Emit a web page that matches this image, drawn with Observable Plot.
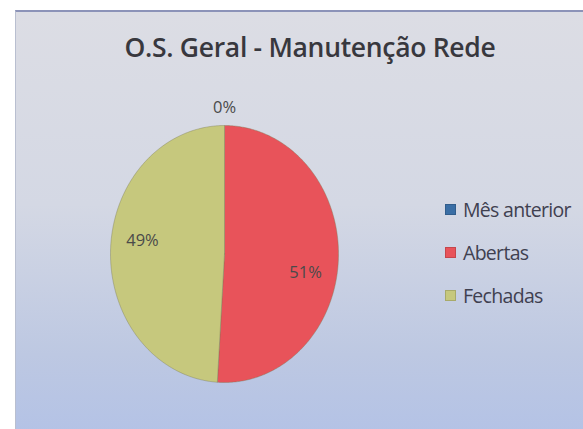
<!DOCTYPE html>
<html><head><meta charset="utf-8">
<script src="https://cdn.jsdelivr.net/npm/d3@7"></script>
<script src="https://cdn.jsdelivr.net/npm/@observablehq/plot@0.6"></script>
<style>
html,body{margin:0;padding:0;background:#fff;}
#wrap{position:absolute;left:15px;top:10px;width:580px;height:430px;
 background:linear-gradient(180deg,#dcdde4 0%,#d4d8e4 45%,#bdc8e2 80%,#b3c2e6 100%);
 border-top:2px solid #8c93b8;border-left:1px solid #b9bfd0;box-sizing:border-box;overflow:hidden;}
#title{position:absolute;left:0;top:22px;width:588px;text-align:center;font-family:"Open Sans",Lato,sans-serif;font-weight:600;font-size:26.5px;line-height:1;color:#38383e;letter-spacing:-0.3px;white-space:nowrap;}
#legend{position:absolute;left:429px;top:176px;font-family:"Open Sans",Lato,sans-serif;font-size:19.5px;color:#3f4050;letter-spacing:-0.7px;white-space:nowrap;}
.row{height:43px;display:flex;align-items:center;}
.sw{width:11px;height:11px;margin-right:7px;box-shadow:inset 0 0 0 1px rgba(0,0,0,0.15);}
#chart{position:absolute;left:0;top:0;}
</style></head>
<body>
<div id="wrap"><div id="chart"></div><div id="title"></div><div id="legend"></div></div>
<script>
const title = "O.S. Geral - Manutenção Rede";
const categories = ["Mês anterior", "Abertas", "Fechadas"];
const values = [0, 51, 49];
const labels = ["0%", "51%", "49%"];
const colors = ["#3a6ea5", "#e8535a", "#c6c87d"];

const total = d3.sum(values);
const slices = [];
const pts = [];
let acc = 0;
categories.forEach((c, i) => {
  const a0 = acc / total * 2 * Math.PI;
  acc += values[i];
  const a1 = acc / total * 2 * Math.PI;
  const mid = (a0 + a1) / 2;
  slices.push({cat: c, value: values[i], label: labels[i], a0, a1, mid});
  if (values[i] > 0) {
    const n = Math.max(2, Math.ceil((a1 - a0) / 0.01));
    pts.push({cat: c, x: 0, y: 0});
    for (let k = 0; k <= n; k++) {
      const a = a0 + (a1 - a0) * k / n;
      pts.push({cat: c, x: Math.sin(a), y: Math.cos(a)});
    }
    pts.push({cat: c, x: 0, y: 0});
  }
});
const labelPts = slices.map(s => {
  const r = s.value === 0 ? 1.14 : 0.72;
  return {cat: s.cat, label: s.label, x: r * Math.sin(s.mid), y: r * Math.cos(s.mid)};
});
const txt = {fill: "#4a4a4a", fontSize: 16.5, fontFamily: "Open Sans, Lato, sans-serif", letterSpacing: -0.5};

const plot = Plot.plot({
  width: 569, height: 420,
  margin: 0,
  style: {background: "transparent"},
  x: {domain: [-1, 1], range: [94, 322], axis: null},
  y: {domain: [-1, 1], range: [370, 113], axis: null},
  color: {domain: categories, range: colors},
  marks: [
    Plot.line(pts, {x: "x", y: "y", z: "cat", fill: "cat", stroke: "#7a7a55", strokeOpacity: 0.4, strokeWidth: 1, curve: "linear"}),
    Plot.text(labelPts.filter(d => d.cat === "Mês anterior"), {x: "x", y: "y", text: "label", ...txt}),
    Plot.text(labelPts.filter(d => d.cat === "Abertas"), {x: "x", y: "y", text: "label", dx: -1, dy: 16, ...txt}),
    Plot.text(labelPts.filter(d => d.cat === "Fechadas"), {x: "x", y: "y", text: "label", dx: 0, dy: -10, ...txt})
  ]
});
document.getElementById("chart").appendChild(plot);
document.getElementById("title").textContent = title;
const lg = document.getElementById("legend");
const cs = plot.scale("color");
categories.forEach(c => {
  const row = document.createElement("div"); row.className = "row";
  const sw = document.createElement("span"); sw.className = "sw"; sw.style.background = cs.apply(c);
  const t = document.createElement("span"); t.textContent = c;
  row.appendChild(sw); row.appendChild(t); lg.appendChild(row);
});
</script>
</body></html>
